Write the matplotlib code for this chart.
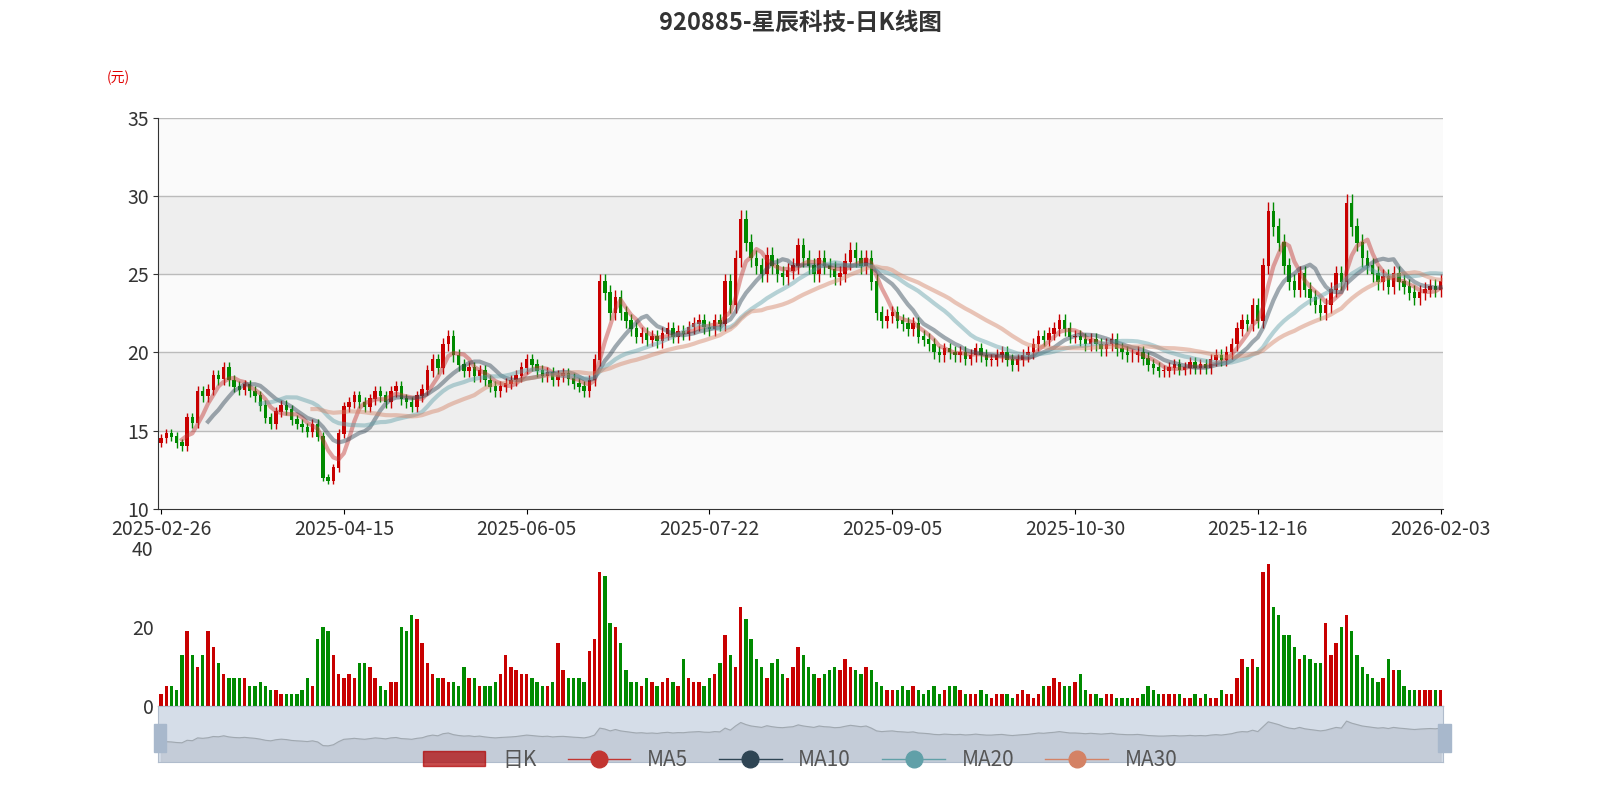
import matplotlib
matplotlib.use("Agg")
import matplotlib.pyplot as plt
import numpy as np
import pandas as pd
from matplotlib.patches import Rectangle

plt.rcParams['font.family'] = ['Noto Sans CJK SC', 'DejaVu Sans']

closes = [
 14.5,14.8,14.6,14.2,14.0,15.8,15.5,17.5,17.2,17.6,18.5,18.3,19.0,18.2,17.8,17.6,17.9,17.5,17.2,16.6,15.8,15.4,16.2,16.6,16.3,15.7,15.4,15.2,14.9,15.4,14.6,12.0,11.8,12.6,14.8,
 16.5,16.8,17.2,16.8,16.5,17.0,17.5,17.2,16.8,17.5,17.8,17.0,16.8,16.5,17.2,17.6,18.8,19.5,19.0,20.5,21.0,19.8,19.2,18.8,19.0,18.5,18.8,18.2,17.8,17.5,17.8,18.0,18.2,18.5,19.0,
 19.5,19.2,18.8,18.5,18.7,18.2,18.5,18.6,18.3,18.0,17.8,17.5,18.2,19.5,24.5,23.8,22.5,23.5,22.5,22.0,21.5,21.0,21.2,20.8,21.0,20.7,21.2,21.5,21.0,21.3,21.2,21.6,21.8,22.0,21.6,
 21.5,22.0,21.8,24.5,23.0,26.0,28.5,27.0,26.0,25.5,25.0,26.2,25.5,25.0,24.8,25.2,25.5,26.8,26.0,25.5,25.0,26.0,25.5,25.3,24.8,25.0,25.8,26.5,26.0,25.5,26.0,24.5,22.5,22.0,22.3,
 22.5,22.0,21.8,21.5,21.8,21.0,20.8,20.5,20.0,19.8,20.2,20.0,19.8,20.0,19.6,19.8,20.2,19.8,19.5,19.5,19.8,20.0,19.5,19.2,19.5,19.8,20.0,20.5,21.0,20.8,21.2,21.5,22.0,21.5,21.0,
 21.0,20.8,20.5,20.8,20.5,20.2,20.5,20.8,20.2,20.0,19.8,19.8,20.0,19.6,19.2,19.0,18.8,18.8,19.0,19.2,18.9,19.0,19.3,19.0,19.2,19.0,19.5,19.8,19.5,20.0,20.5,21.5,22.0,21.8,23.0,
 22.0,25.5,29.0,28.0,27.0,25.5,24.5,24.0,25.0,24.0,23.5,23.0,22.5,23.0,24.0,25.0,24.5,29.5,28.0,27.0,26.0,25.5,25.0,24.5,24.8,24.2,25.0,24.5,24.2,23.8,23.5,23.8,24.0,24.2,24.0,
 24.5]
volumes = [
 3,5,5,4,13,19,13,10,13,19,15,11,8,7,7,7,7,5,5,6,5,4,4,3,3,3,3,4,7,5,17,20,19,13,8,
 7,8,7,11,11,10,7,5,4,6,6,20,19,23,22,16,11,8,7,7,6,6,5,10,7,7,5,5,5,6,8,13,10,9,8,
 8,7,6,5,5,6,16,9,7,7,7,6,14,17,34,33,21,20,16,9,6,6,5,7,6,5,6,7,6,5,12,7,6,6,5,
 7,8,11,18,13,10,25,22,17,12,10,7,11,12,8,7,10,15,13,10,8,7,8,9,10,9,12,10,9,8,10,9,6,5,4,
 4,4,5,4,5,4,3,4,5,3,4,5,5,4,3,3,3,4,3,2,3,3,3,2,3,4,3,2,3,5,5,7,6,5,5,
 6,8,4,3,3,2,3,3,2,2,2,2,2,3,5,4,3,3,3,3,3,2,2,3,2,3,2,2,4,3,3,7,12,10,12,
 10,34,36,25,23,18,18,15,12,13,12,11,11,21,13,16,20,23,19,13,10,8,7,6,7,12,9,9,5,4,4,4,4,4,4,
 4]
tick_labels = ["2025-02-26","2025-04-15","2025-06-05","2025-07-22","2025-09-05","2025-10-30","2025-12-16","2026-02-03"]
tick_step = 35

n = len(closes)
c = np.array(closes, float)
o = np.concatenate([[c[0] * 0.98], c[:-1]])
hi = np.maximum(o, c) * 1.02
lo = np.minimum(o, c) * 0.98
up = c >= o
RED, GREEN = "#c80000", "#008a00"
x = np.arange(n)

fig = plt.figure(figsize=(16, 8), dpi=100)
fig.text(0.5, 0.972, "920885-星辰科技-日K线图", ha="center", va="center", fontsize=17, fontweight="bold", color="#333333")
fig.text(0.074, 0.903, "(元)", ha="center", va="center", fontsize=10, color="#e00000")

ax = fig.add_axes([0.099, 0.364, 0.803, 0.489])
ax.set_xlim(-0.5, n - 0.5)
ax.set_ylim(10, 35)
for y0, col in [(10, "#fafafa"), (15, "#eeeeee"), (20, "#fafafa"), (25, "#eeeeee"), (30, "#fafafa")]:
    ax.axhspan(y0, y0 + 5, color=col, zorder=0, lw=0)
for y in [15, 20, 25, 30, 35]:
    ax.axhline(y, color="#bbbbbb", lw=1, zorder=1)
cols = np.where(up, RED, GREEN)
ax.vlines(x, lo, hi, colors=cols, lw=1, zorder=3)
ax.bar(x, np.abs(c - o) + 0.05, bottom=np.minimum(o, c), width=0.65, color=cols, zorder=3)
s = pd.Series(c)
ma_cols = {"MA5": "#c23531", "MA10": "#2f4554", "MA20": "#61a0a8", "MA30": "#d48265"}
for w, name in [(5, "MA5"), (10, "MA10"), (20, "MA20"), (30, "MA30")]:
    ax.plot(x, s.rolling(w).mean(), color=ma_cols[name], lw=3, alpha=0.45, zorder=4)
ticks = list(range(0, n, tick_step))
ax.set_xticks(ticks)
ax.set_xticklabels(tick_labels[:len(ticks)], fontsize=14, color="#333333")
ax.set_yticks([10, 15, 20, 25, 30, 35])
ax.tick_params(axis="y", labelsize=14, colors="#333333")
for sp in ["top", "right"]:
    ax.spines[sp].set_visible(False)
ax.spines["left"].set_color("#333333")
ax.spines["bottom"].set_color("#333333")

av = fig.add_axes([0.099, 0.1175, 0.803, 0.1975])
av.set_xlim(-0.5, n - 0.5)
av.set_ylim(0, 40)
av.bar(x, volumes, width=0.65, color=cols)
av.set_yticks([0, 20, 40])
av.tick_params(axis="y", labelsize=14, colors="#333333", length=0)
av.set_xticks([])
for sp in ["top", "right", "left"]:
    av.spines[sp].set_visible(False)
av.spines["bottom"].set_color("#333333")

az = fig.add_axes([0.099, 0.047, 0.803, 0.07])
az.set_xlim(-0.5, n - 0.5)
az.set_ylim(0, 40)
az.set_facecolor("#d5dde8")
az.fill_between(x, 0, c, color="#c0c8d4", alpha=0.8)
az.plot(x, c, color="#a0a8b0", lw=0.8)
az.set_xticks([]); az.set_yticks([])
for sp in az.spines.values():
    sp.set_color("#b0bccc")
for xx in [0.100, 0.903]:
    fig.patches.append(Rectangle((xx - 0.004, 0.06), 0.008, 0.035, transform=fig.transFigure, color="#a8b8cc"))

handles = [Rectangle((0, 0), 1, 1, color="#b00000", alpha=0.7)]
labels = ["日K"]
for name in ["MA5", "MA10", "MA20", "MA30"]:
    handles.append(plt.Line2D([0], [0], color=ma_cols[name], marker="o", markersize=12, lw=1))
    labels.append(name)
fig.legend(handles, labels, loc="center", bbox_to_anchor=(0.5, 0.05), ncol=5, frameon=False,
           fontsize=15, labelcolor="#555555", handlelength=3, columnspacing=1.5)
fig.savefig("out.png", dpi=100)
